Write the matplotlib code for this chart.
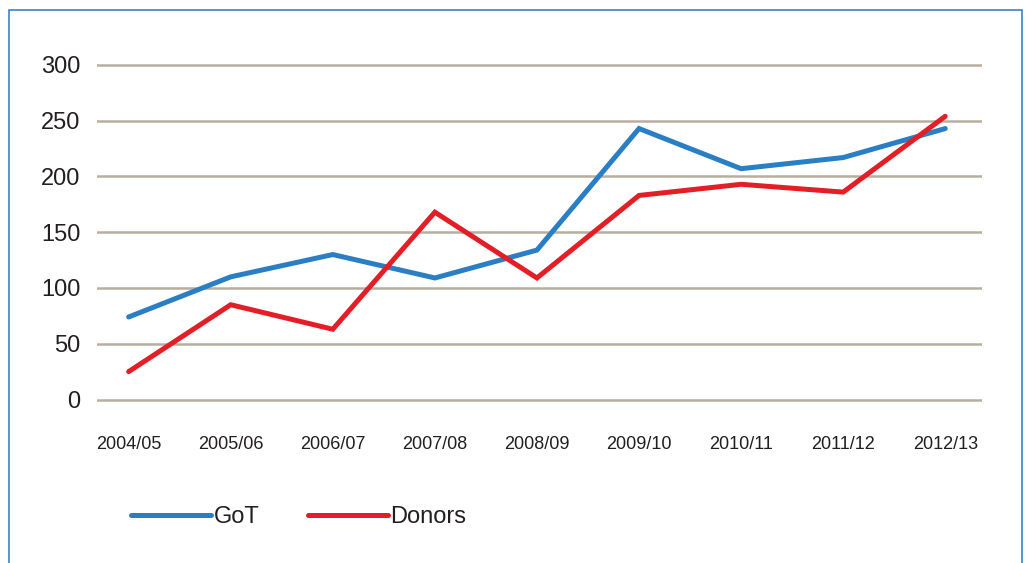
import numpy as np
import matplotlib.pyplot as plt
from matplotlib.patches import Rectangle

years = ['2004/05', '2005/06', '2006/07', '2007/08', '2008/09',
         '2009/10', '2010/11', '2011/12', '2012/13']
got = [74, 110, 130, 109, 134, 243, 207, 217, 243]
donors = [25, 85, 63, 168, 109, 183, 193, 186, 254]
yticks = [0, 50, 100, 150, 200, 250, 300]

plt.rcParams['font.family'] = ['Liberation Sans', 'DejaVu Sans']

W, H = 1029, 563
fig = plt.figure(figsize=(W / 100, H / 100), dpi=100)

# axes box in pixels: grid from x 97..982, y 0 -> 399.5, 300 -> 65
pad = 3
ppu = (399.5 - 65) / 300.0
top_px = 65 - pad * ppu
bot_px = 399.5 + pad * ppu
ax = fig.add_axes([97 / W, 1 - bot_px / H, (982 - 97) / W, (bot_px - top_px) / H])

x = np.arange(len(years))
ax.plot(x, got, color='#2a7fc4', linewidth=3.6, solid_capstyle='round',
        solid_joinstyle='miter', label='GoT', zorder=3)
ax.plot(x, donors, color='#e31e26', linewidth=3.6, solid_capstyle='round',
        solid_joinstyle='miter', label='Donors', zorder=3)

ax.set_ylim(-pad, 300 + pad)
ax.set_xlim(-0.31, 8.36)
ax.set_yticks(yticks)
ax.set_xticks(x)
ax.set_xticklabels(years)
ax.grid(axis='y', color='#b8ae9e', linewidth=1.8)
ax.set_axisbelow(True)
for s in ax.spines.values():
    s.set_visible(False)
ax.tick_params(axis='both', length=0, colors='#231f20')
ax.tick_params(axis='y', labelsize=17, pad=12)
ax.tick_params(axis='x', labelsize=13, pad=24)

fig.legend(loc='center left', bbox_to_anchor=(131 / W, 1 - 517 / H),
           bbox_transform=fig.transFigure, ncol=2, frameon=False,
           fontsize=17, handlelength=3.4, handletextpad=0.1,
           columnspacing=2.05, borderpad=0, borderaxespad=0,
           labelcolor='#231f20')

fig.add_artist(Rectangle((9 / W, -0.05), (1022 - 9) / W, 1.05 - 10 / H,
                         transform=fig.transFigure, fill=False,
                         edgecolor='#3a85c6', linewidth=1.2))

fig.savefig('out.png', dpi=100)
